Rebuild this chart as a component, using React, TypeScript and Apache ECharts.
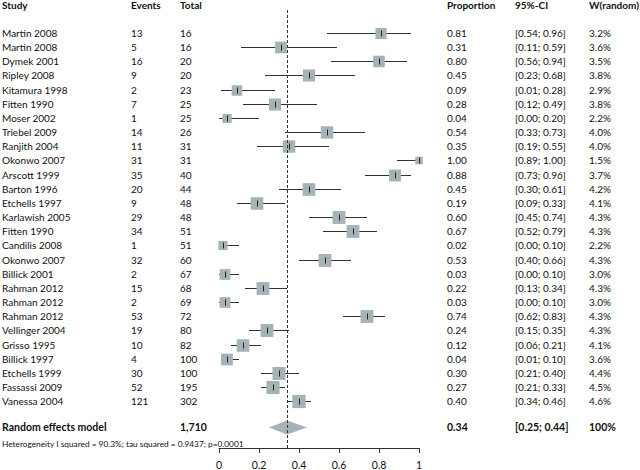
import React, { useEffect, useRef } from "react";
import * as echarts from "echarts";

const studies = [
  "Martin 2008", "Martin 2008", "Dymek 2001", "Ripley 2008", "Kitamura 1998", "Fitten 1990",
  "Moser 2002", "Triebel 2009", "Ranjith 2004", "Okonwo 2007", "Arscott 1999", "Barton 1996",
  "Etchells 1997", "Karlawish 2005", "Fitten 1990", "Candilis 2008", "Okonwo 2007", "Billick 2001",
  "Rahman 2012", "Rahman 2012", "Rahman 2012", "Vellinger 2004", "Grisso 1995", "Billick 1997",
  "Etchells 1999", "Fassassi 2009", "Vanessa 2004",
];
const events = [13, 5, 16, 9, 2, 7, 1, 14, 11, 31, 35, 20, 9, 29, 34, 1, 32, 2, 15, 2, 53, 19, 10, 4, 30, 52, 121];
const totals = [16, 16, 20, 20, 23, 25, 25, 26, 31, 31, 40, 44, 48, 48, 51, 51, 60, 67, 68, 69, 72, 80, 82, 100, 100, 195, 302];
const proportions = [0.81, 0.31, 0.80, 0.45, 0.09, 0.28, 0.04, 0.54, 0.35, 1.00, 0.88, 0.45, 0.19, 0.60, 0.67, 0.02, 0.53, 0.03, 0.22, 0.03, 0.74, 0.24, 0.12, 0.04, 0.30, 0.27, 0.40];
const ciLow = [0.54, 0.11, 0.56, 0.23, 0.01, 0.12, 0.00, 0.33, 0.19, 0.89, 0.73, 0.30, 0.09, 0.45, 0.52, 0.00, 0.40, 0.00, 0.13, 0.00, 0.62, 0.15, 0.06, 0.01, 0.21, 0.21, 0.34];
const ciHigh = [0.96, 0.59, 0.94, 0.68, 0.28, 0.49, 0.20, 0.73, 0.55, 1.00, 0.96, 0.61, 0.33, 0.74, 0.79, 0.10, 0.66, 0.10, 0.34, 0.10, 0.83, 0.35, 0.21, 0.10, 0.40, 0.33, 0.46];
const weights = [3.2, 3.6, 3.5, 3.8, 2.9, 3.8, 2.2, 4.0, 4.0, 1.5, 3.7, 4.2, 4.1, 4.3, 4.3, 2.2, 4.3, 3.0, 4.3, 3.0, 4.3, 4.3, 4.1, 3.6, 4.4, 4.5, 4.6];

const headers = ["Study", "Events", "Total", "Proportion", "95%-CI", "W(random)"];
const pooledLabel = "Random effects model";
const pooledTotal = "1,710";
const pooledEstimate = 0.34;
const pooledLow = 0.25;
const pooledHigh = 0.44;
const pooledWeight = "100%";
const heterogeneityText = "Heterogeneity I squared = 90.3%; tau squared = 0.9437; p=0.0001";
const xTicks = [0, 0.2, 0.4, 0.6, 0.8, 1];

const FONT = "Lato";
const colX = [2, 131, 180, 447, 515, 589];
const SQUARE = "#a5b3b6";
const POOLED_ROW = 27.85;
const HEADER_ROW = -1.97;
const HET_ROW = 29.0;

export default function App() {
  const ref = useRef<HTMLDivElement>(null);
  useEffect(() => {
    if (!ref.current) return;
    const chart = echarts.init(ref.current, null, { renderer: "svg" });
    const txt = (x: number, y: number, s: string, bold = false, size = 10) => ({
      type: "text",
      x,
      y,
      style: {
        text: s,
        fill: "#111",
        font: `${bold ? "bold " : ""}${size}px ${FONT}`,
        textVerticalAlign: "middle",
        verticalAlign: "middle",
        align: "left",
      },
    });
    const option: any = {
      animation: false,
      backgroundColor: "#fff",
      grid: { left: 219, width: 200, top: 10, height: 440 },
      xAxis: {
        type: "value",
        min: 0,
        max: 1,
        interval: 0.2,
        splitLine: { show: false },
        axisLine: { show: true, onZero: false, lineStyle: { color: "#333", width: 1 } },
        axisTick: { show: true, length: 5, lineStyle: { color: "#333" } },
        axisLabel: {
          color: "#111",
          fontFamily: FONT,
          fontSize: 10.5,
          margin: 11,
          formatter: (v: number) => {
            const r = Number(v.toFixed(1));
            return xTicks.includes(r) ? String(r) : "";
          },
        },
      },
      yAxis: { type: "value", inverse: true, min: -1.62, max: 29.3, show: false },
      series: [
        {
          type: "custom",
          clip: false,
          silent: true,
          data: proportions.map((p, i) => [p, i, ciLow[i], ciHigh[i], weights[i]]),
          renderItem: (params: any, api: any) => {
            const row = api.value(1);
            const p = api.coord([api.value(0), row]);
            const lo = api.coord([api.value(2), row]);
            const hi = api.coord([api.value(3), row]);
            const s = 6.2 * Math.sqrt(api.value(4));
            const i = params.dataIndex;
            const y = Math.round(p[1]) + 0.5;
            return {
              type: "group",
              children: [
                { type: "line", shape: { x1: lo[0], y1: y, x2: hi[0], y2: y }, style: { stroke: "#333", lineWidth: 1 } },
                { type: "rect", shape: { x: p[0] - s / 2, y: y - s / 2, width: s, height: s }, style: { fill: SQUARE } },
                { type: "line", shape: { x1: Math.round(p[0]) + 0.5, y1: y - 3, x2: Math.round(p[0]) + 0.5, y2: y + 3 }, style: { stroke: "#222", lineWidth: 1 } },
                txt(colX[0], p[1], studies[i]),
                txt(colX[1], p[1], String(events[i])),
                txt(colX[2], p[1], String(totals[i])),
                txt(colX[3], p[1], proportions[i].toFixed(2)),
                txt(colX[4], p[1], `[${ciLow[i].toFixed(2)}; ${ciHigh[i].toFixed(2)}]`),
                txt(colX[5], p[1], `${weights[i].toFixed(1)}%`),
              ],
            };
          },
          markLine: {
            silent: true,
            symbol: "none",
            label: { show: false },
            lineStyle: { color: "#333", type: [3, 2], width: 1 },
            data: [{ xAxis: pooledEstimate }],
          },
        },
        {
          type: "custom",
          clip: false,
          silent: true,
          data: [[pooledEstimate, POOLED_ROW, pooledLow, pooledHigh]],
          renderItem: (params: any, api: any) => {
            const row = api.value(1);
            const c = api.coord([api.value(0), row]);
            const lo = api.coord([api.value(2), row]);
            const hi = api.coord([api.value(3), row]);
            const h = 7;
            const hdr = api.coord([0, HEADER_ROW])[1];
            const het = api.coord([0, HET_ROW])[1];
            return {
              type: "group",
              children: [
                { type: "polygon", shape: { points: [[lo[0], c[1]], [c[0], c[1] - h], [hi[0], c[1]], [c[0], c[1] + h]] }, style: { fill: SQUARE } },
                txt(colX[0], c[1], pooledLabel, true, 10.5),
                txt(colX[2], c[1], pooledTotal, true, 10.5),
                txt(colX[3], c[1], api.value(0).toFixed(2), true, 10.5),
                txt(colX[4], c[1], `[${api.value(2).toFixed(2)}; ${api.value(3).toFixed(2)}]`, true, 10.5),
                txt(colX[5], c[1], pooledWeight, true, 10.5),
                txt(colX[0], het, heterogeneityText, false, 8.3),
                ...headers.map((h2, k) => txt(colX[k], hdr, h2, true, 10)),
              ],
            };
          },
        },
      ],
    };
    chart.setOption(option);
    return () => chart.dispose();
  }, []);
  return (
    <div
      ref={ref}
      style={{ position: "fixed", left: 0, top: 0, width: 640, height: 470, background: "#fff" }}
    />
  );
}
